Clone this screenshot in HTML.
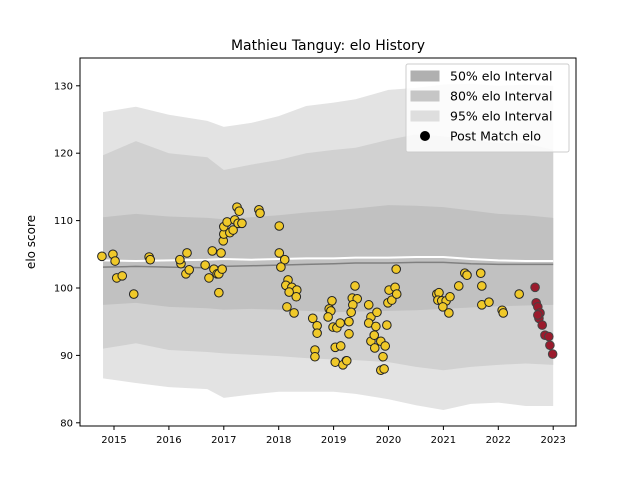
<!DOCTYPE html>
<html><head><meta charset="utf-8"><style>
body{margin:0;background:#fff;}
svg text{font-family:"DejaVu Sans","Liberation Sans",sans-serif;}
</style></head><body>
<svg id="chart" width="640" height="480" viewBox="0 0 640 480">
<rect x="0" y="0" width="640" height="480" fill="#fff"/>
<text x="328" y="50" text-anchor="middle" font-size="14" fill="#000">Mathieu Tanguy: elo History</text>
<g id="plot"></g>
</svg>
<script>
const bandYears = [2014.8,2015.4,2016.0,2016.7,2017.0,2017.5,2018.0,2018.5,2019.0,2019.4,2020.0,2020.5,2021.0,2021.5,2022.0,2022.5,2023.0];
const up95 = [126.1,126.9,125.7,124.8,123.9,124.5,125.5,127.0,127.5,128.0,129.4,129.7,130.2,130.3,130.0,130.2,130.0];
const up80 = [119.7,121.8,120.0,119.4,117.5,118.3,119.0,120.0,120.5,120.8,122.0,122.8,122.5,122.0,121.5,121.5,120.5];
const up50 = [110.5,111.0,110.6,110.4,110.2,110.5,110.8,111.2,111.5,111.8,112.3,112.2,112.0,111.5,111.0,110.8,110.4];
const lo50 = [97.5,97.8,97.2,97.0,96.8,96.9,96.8,96.6,96.4,96.5,96.6,96.7,96.9,97.1,97.3,97.4,97.5];
const lo80 = [91.0,91.8,90.8,90.5,90.3,90.1,89.9,89.6,89.4,89.3,89.0,88.3,87.8,88.3,88.6,88.8,88.6];
const lo95 = [86.6,85.9,85.3,85.0,83.7,84.2,84.6,84.6,84.6,84.3,83.5,82.6,81.9,82.8,83.0,82.5,82.5];
const meanLine = [104.1,104.0,104.1,104.2,104.3,104.2,104.3,104.4,104.4,104.5,104.5,104.6,104.6,104.3,104.1,104.0,104.0];
const medLine = [103.1,103.2,103.1,103.0,103.2,103.3,103.4,103.5,103.6,103.7,103.7,103.8,103.8,103.6,103.5,103.5,103.5];
const matchYears = [2014.78,2014.98,2015.02,2015.05,2015.15,2015.36,2015.64,2015.66,2016.22,2016.20,2016.33,2016.31,2016.37,2016.66,2016.79,2016.73,2016.82,2016.88,2016.91,2016.97,2016.95,2016.91,2016.99,2017.00,2017.00,2017.06,2017.11,2017.17,2017.20,2017.24,2017.28,2017.26,2017.33,2017.64,2017.66,2018.01,2018.01,2018.11,2018.04,2018.17,2018.13,2018.24,2018.33,2018.19,2018.32,2018.15,2018.28,2018.62,2018.70,2018.70,2018.66,2018.66,2020.14,2019.39,2018.97,2018.92,2018.95,2018.90,2019.34,2019.43,2019.35,2018.99,2019.06,2019.12,2019.28,2019.32,2019.28,2019.03,2019.13,2019.23,2019.03,2019.17,2019.24,2019.64,2019.68,2019.79,2019.64,2019.77,2019.68,2019.74,2019.86,2019.75,2019.94,2019.90,2019.86,2019.92,2019.97,2019.99,2020.06,2020.01,2020.12,2020.15,2020.88,2020.92,2020.90,2020.97,2021.05,2020.99,2021.12,2021.10,2021.28,2021.39,2021.43,2021.68,2021.70,2021.70,2021.83,2022.07,2022.09,2022.38];
const matchElo = [104.7,105.0,104.0,101.5,101.8,99.1,104.6,104.2,103.6,104.2,105.2,102.1,102.7,103.4,105.5,101.5,102.8,102.1,102.1,102.8,105.2,99.3,107.0,108.0,109.1,109.8,108.2,108.6,110.1,112.0,111.4,109.6,109.6,111.6,111.1,109.2,105.2,104.2,103.1,101.2,100.4,100.1,99.7,99.4,98.7,97.2,96.3,95.5,94.4,93.3,90.8,89.8,102.8,100.3,98.1,96.9,96.6,95.7,98.5,98.4,97.5,94.2,94.1,94.8,95.0,96.4,93.2,91.2,91.4,89.2,89.0,88.6,89.2,97.5,95.7,96.4,94.8,94.3,92.1,93.0,92.1,91.1,91.4,89.8,87.8,88.0,94.5,97.8,98.2,99.7,100.1,99.1,99.1,99.3,98.2,98.1,98.1,97.2,98.7,96.3,100.3,102.2,101.9,102.2,100.3,97.5,97.9,96.7,96.3,99.1];
const recentYears = [2022.67,2022.69,2022.72,2022.76,2022.74,2022.80,2022.85,2022.92,2022.94,2022.99,2022.72];
const recentElo = [100.1,97.8,97.2,96.3,95.5,94.5,93.0,92.8,91.5,90.2,96.0];
const xTicks = [2015,2016,2017,2018,2019,2020,2021,2022,2023];
const yTicks = [80,90,100,110,120,130];

const L=80,R=576,T=58,B=426;
const X=v=>114+(v-2015)*54.9;
const Y=v=>288-(v-100)*6.74;
const NS='http://www.w3.org/2000/svg';
const g=document.getElementById('plot');
function mk(tag,attrs){const e=document.createElementNS(NS,tag);for(const k in attrs)e.setAttribute(k,attrs[k]);g.appendChild(e);return e;}
function band(up,lo,fill,name){
  let d='M'+bandYears.map((y,i)=>X(y)+','+Y(up[i])).join('L');
  for(let i=bandYears.length-1;i>=0;i--)d+='L'+X(bandYears[i])+','+Y(lo[i]);
  const p=mk('path',{d:d+'Z',fill:fill});
  
  
}
band(up95,lo95,'#e3e3e3','band-95');
band(up80,lo80,'#d1d1d1','band-80');
band(up50,lo50,'#c1c1c1','band-50');
function line(arr,color,w,name){
  const p=mk('polyline',{points:bandYears.map((y,i)=>X(y)+','+Y(arr[i])).join(' '),fill:'none',stroke:color,'stroke-width':w});
  
  
}
line(medLine,'#808080',1.5,'median-line');
line(meanLine,'#ffffff',2,'mean-line');
matchYears.forEach((yr,i)=>{
  const c=mk('circle',{cx:X(yr),cy:Y(matchElo[i]),r:4.3,fill:'#f0c929',stroke:'#222','stroke-width':1});
  
  
});
recentYears.forEach((yr,i)=>{
  const c=mk('circle',{cx:X(yr),cy:Y(recentElo[i]),r:4.3,fill:'#9b1b2d',stroke:'#444','stroke-width':1});
  
  
});
const frame=mk('rect',{x:L,y:T,width:R-L,height:B-T,fill:'none',stroke:'#000','stroke-width':1});


xTicks.forEach(t=>{
  const x=X(t);
  mk('line',{x1:x,y1:B,x2:x,y2:B+4,stroke:'#000'});
  const tx=mk('text',{x:x,y:B+17,'text-anchor':'middle','font-size':10});
  tx.textContent=t;
  
  
});
yTicks.forEach(t=>{
  const y=Y(t);
  mk('line',{x1:L-4,y1:y,x2:L,y2:y,stroke:'#000'});
  const tx=mk('text',{x:L-7,y:y+3.5,'text-anchor':'end','font-size':10});
  tx.textContent=t;
  
  
});
const yl=mk('text',{x:35,y:242,'text-anchor':'middle','font-size':12,transform:'rotate(-90 35 242)'});
yl.textContent='elo score';


// legend
const lg=mk('rect',{x:406,y:64,width:163,height:88,rx:2,fill:'#fff','fill-opacity':0.85,stroke:'#ccc'});


const entries=[['50% elo Interval','#b0b0b0'],['80% elo Interval','#c6c6c6'],['95% elo Interval','#dedede'],['Post Match elo',null]];
entries.forEach((e,i)=>{
  const y=76+i*20;
  if(e[1]){mk('rect',{x:411,y:y-5,width:28,height:10,fill:e[1],stroke:e[1]});}
  else{mk('circle',{cx:425,cy:y,r:5,fill:'#000'});}
  const tx=mk('text',{x:450,y:y+4.5,'font-size':12.5});
  tx.textContent=e[0];
  
  
});
</script>
</body></html>
